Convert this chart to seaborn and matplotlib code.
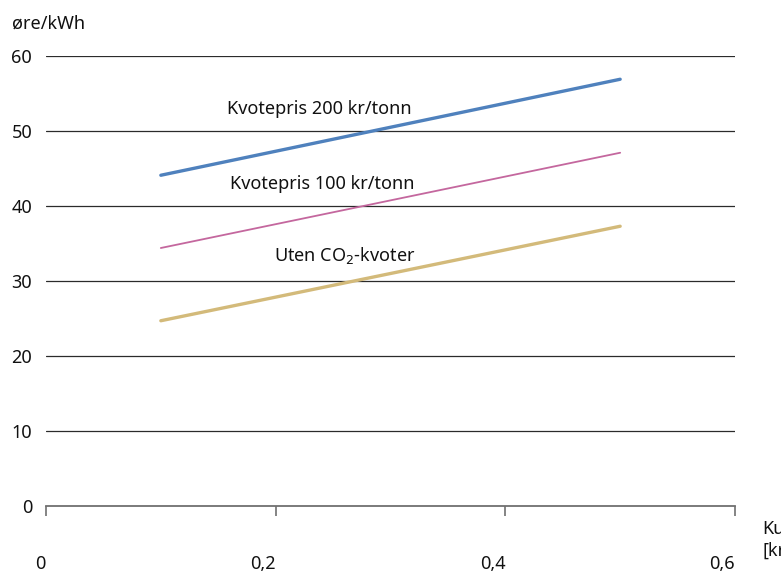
import matplotlib
matplotlib.use("Agg")
import matplotlib.pyplot as plt
import seaborn as sns
import pandas as pd

# Data
kullpris = [0.1, 0.5]
kvote200 = [44.1, 56.9]
kvote100 = [34.4, 47.1]
uten_co2 = [24.7, 37.3]
series_names = ["Kvotepris 200 kr/tonn", "Kvotepris 100 kr/tonn", "Uten CO$_2$-kvoter"]
y_ticks = [0, 10, 20, 30, 40, 50, 60]
x_ticks = [0, 0.2, 0.4, 0.6]
x_tick_labels = ["0", "0,2", "0,4", "0,6"]

df = pd.DataFrame({
    "x": kullpris * 3,
    "y": kvote200 + kvote100 + uten_co2,
    "serie": [series_names[0]] * 2 + [series_names[1]] * 2 + [series_names[2]] * 2,
})

sns.set_theme(style="white")
plt.rcParams["font.family"] = ["Noto Sans", "DejaVu Sans"]

FS = 13
W, H = 781, 572
fig = plt.figure(figsize=(W / 100, H / 100), dpi=100)
ax = fig.add_axes([46 / W, 1 - 506 / H, (735 - 46) / W, (506 - 56) / H])

palette = {series_names[0]: "#4F81BD", series_names[1]: "#C4679E", series_names[2]: "#D3BA7A"}
sizes = {series_names[0]: 2.4, series_names[1]: 1.3, series_names[2]: 2.4}
sns.lineplot(data=df, x="x", y="y", hue="serie", size="serie", sizes=sizes,
             palette=palette, legend=False, ax=ax, zorder=3)

ax.set_xlim(0, 0.6)
ax.set_ylim(0, 60)
ax.set_yticks(y_ticks)
ax.set_xticks(x_ticks)
ax.set_xticklabels(x_tick_labels, ha="right")
for yv in y_ticks[1:]:
    ax.axhline(yv, color="#2b2b2b", lw=0.9, zorder=1)

for s in ["top", "right", "left"]:
    ax.spines[s].set_visible(False)
ax.spines["bottom"].set_color("#707070")
ax.spines["bottom"].set_linewidth(1.3)
ax.tick_params(axis="x", bottom=True, direction="out", length=7.5, width=1.2, color="#707070",
               pad=28, labelsize=FS, labelcolor="#111111")
ax.tick_params(axis="y", left=False, length=0, pad=10, labelsize=FS, labelcolor="#111111")
ax.set_xlabel("")
ax.set_ylabel("")

ax.text(0.238, 52.9, series_names[0], ha="center", va="center", fontsize=FS, color="#111111")
ax.text(0.241, 42.9, series_names[1], ha="center", va="center", fontsize=FS, color="#111111")
ax.text(0.26, 33.4, series_names[2], ha="center", va="center", fontsize=FS, color="#111111")

fig.text(12 / W, 1 - 24 / H, "øre/kWh", ha="left", va="center", fontsize=FS, color="#111111")
fig.text(762 / W, 1 - 540 / H, "Kullpris\n[kr/kg]", ha="left", va="center", fontsize=FS,
         color="#111111", linespacing=1.25)

fig.savefig("out.png", dpi=100)
